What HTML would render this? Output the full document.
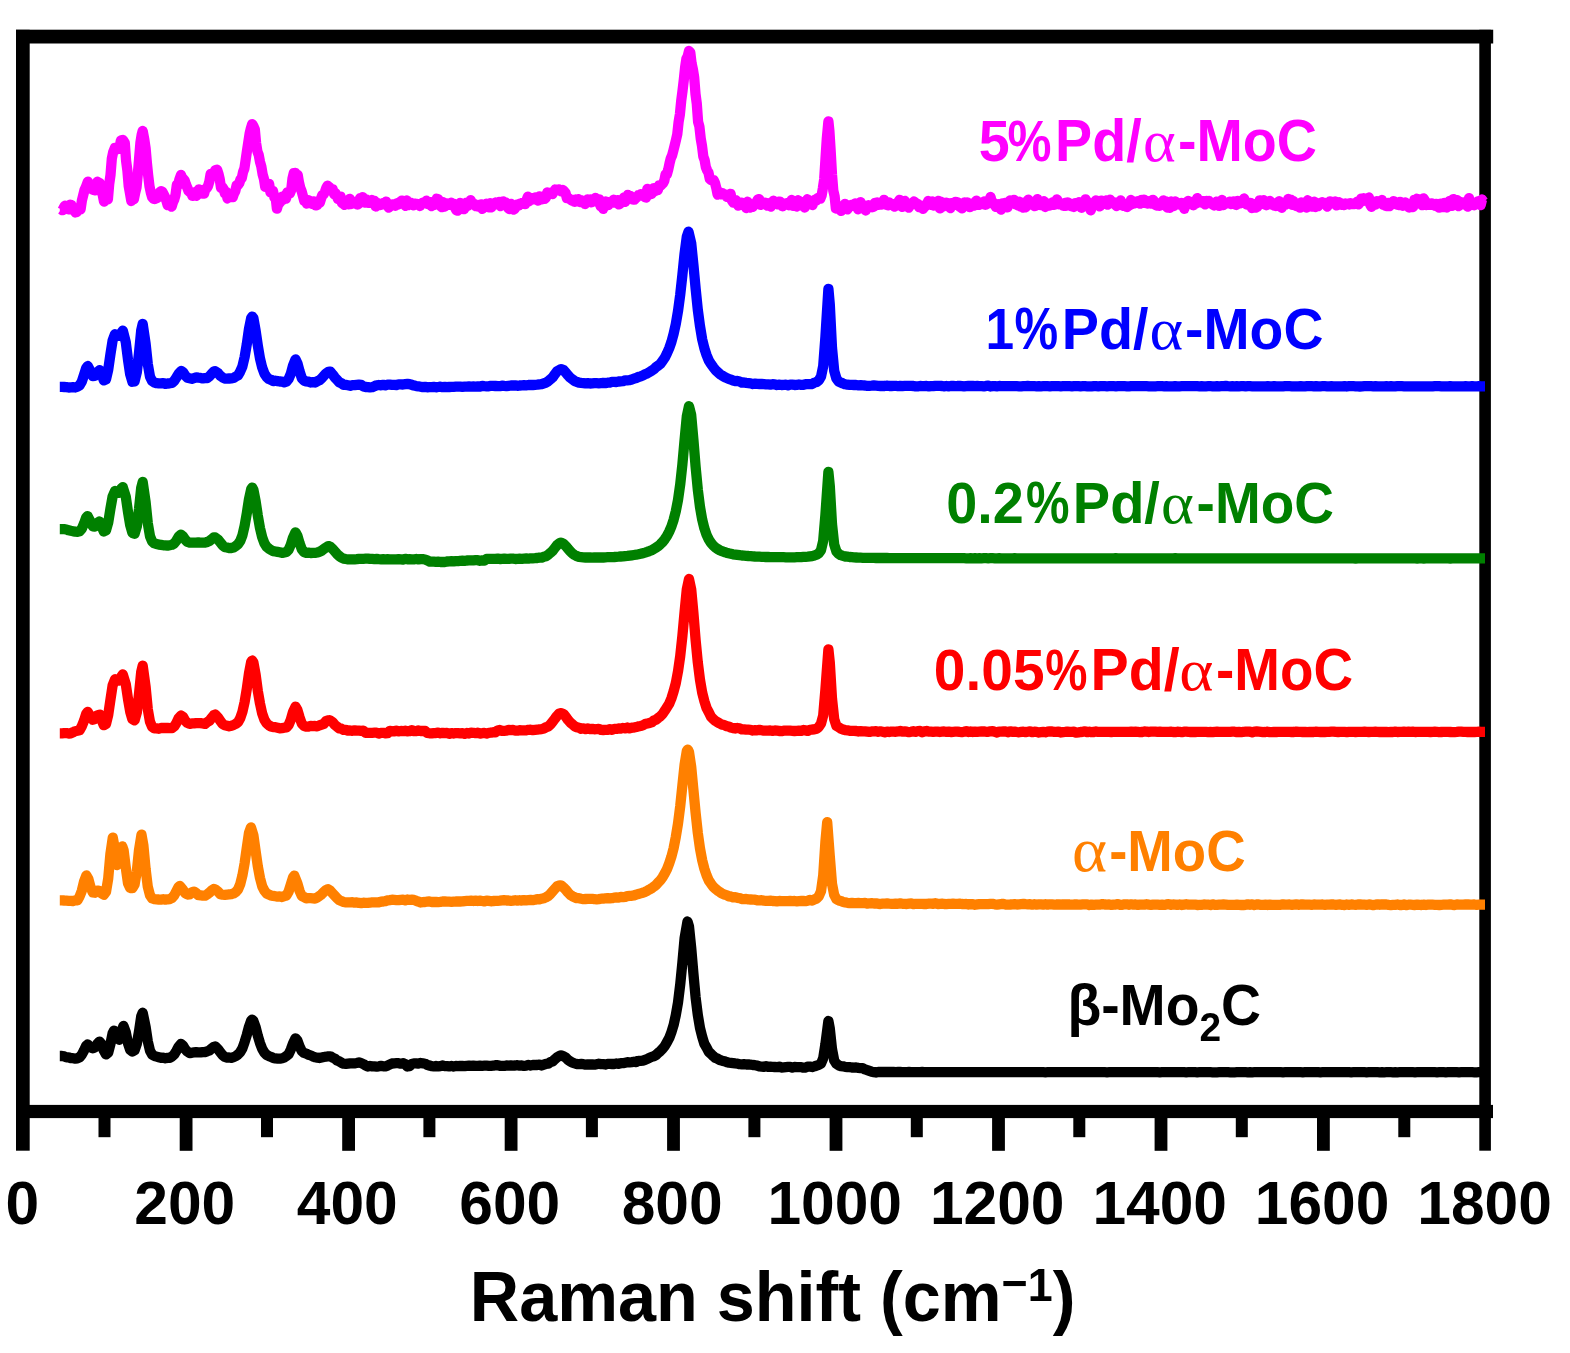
<!DOCTYPE html>
<html lang="en">
<head>
<meta charset="utf-8">
<title>Raman spectra</title>
<style>
html,body{margin:0;padding:0;background:#fff;}
body{width:1570px;height:1353px;overflow:hidden;}
svg{display:block;filter:blur(0.6px);}
text{font-family:"Liberation Sans",Arial,Helvetica,sans-serif;font-weight:bold;}
.sym{font-family:"Liberation Serif","DejaVu Serif",serif;font-weight:normal;}
.c{fill:none;stroke-width:10.3;stroke-linejoin:round;stroke-linecap:butt;}
</style>
</head>
<body>
<svg width="1570" height="1353" viewBox="0 0 1570 1353">
<rect width="1570" height="1353" fill="#fff"/>
<g fill="#000">
<rect x="16" y="29.7" width="1477.2" height="13.8"/>
<rect x="16" y="29.8" width="13.7" height="1120.9"/>
<rect x="1479.3" y="29.8" width="11.6" height="1120.9"/>
<rect x="16" y="1104.9" width="1477" height="13.2"/>
<rect x="98.5" y="1110" width="12.0" height="27.2"/>
<rect x="179.7" y="1110" width="12.8" height="40.8"/>
<rect x="261.0" y="1110" width="12.0" height="27.2"/>
<rect x="342.2" y="1110" width="12.8" height="40.8"/>
<rect x="423.4" y="1110" width="12.0" height="27.2"/>
<rect x="504.7" y="1110" width="12.8" height="40.8"/>
<rect x="585.9" y="1110" width="12.0" height="27.2"/>
<rect x="667.1" y="1110" width="12.8" height="40.8"/>
<rect x="748.4" y="1110" width="12.0" height="27.2"/>
<rect x="829.6" y="1110" width="12.8" height="40.8"/>
<rect x="910.8" y="1110" width="12.0" height="27.2"/>
<rect x="992.1" y="1110" width="12.8" height="40.8"/>
<rect x="1073.3" y="1110" width="12.0" height="27.2"/>
<rect x="1154.6" y="1110" width="12.8" height="40.8"/>
<rect x="1235.8" y="1110" width="12.0" height="27.2"/>
<rect x="1317.0" y="1110" width="12.8" height="40.8"/>
<rect x="1398.3" y="1110" width="12.0" height="27.2"/>
</g>
<path class="c" stroke="#000000" d="M59.8,1056.0 62.0,1056.0 64.2,1056.4 66.4,1057.4 68.6,1057.4 70.8,1058.2 73.0,1058.2 75.2,1058.6 77.4,1058.3 79.6,1057.3 81.8,1054.7 84.0,1050.5 86.2,1045.8 87.7,1044.4 90.6,1047.3 92.8,1048.3 95.0,1047.3 97.2,1044.1 99.5,1041.6 101.6,1044.1 103.8,1050.5 106.0,1054.4 108.2,1052.7 110.4,1044.1 112.6,1033.4 114.0,1030.6 117.0,1037.8 119.2,1039.8 121.4,1031.5 123.5,1025.9 125.8,1032.3 128.0,1043.3 130.2,1049.9 132.4,1051.5 134.6,1050.3 136.8,1043.8 139.0,1031.5 141.2,1016.5 142.7,1012.7 145.6,1026.7 147.8,1041.3 150.0,1050.7 152.2,1054.6 154.4,1056.0 156.6,1056.6 158.8,1057.2 161.0,1057.8 163.2,1057.7 165.4,1058.3 167.6,1057.9 169.8,1057.8 172.0,1056.5 174.2,1054.5 176.4,1050.9 178.6,1046.7 180.9,1043.9 183.0,1045.5 185.2,1049.3 187.4,1051.6 189.6,1053.1 191.8,1052.8 194.0,1052.4 196.2,1052.1 198.4,1052.3 200.6,1052.4 202.8,1052.1 205.0,1052.0 207.2,1051.3 209.4,1050.4 211.6,1048.6 213.8,1046.9 215.3,1046.5 218.2,1049.4 220.4,1052.3 222.6,1055.2 224.8,1056.9 227.0,1057.6 229.2,1057.5 231.4,1057.8 233.6,1057.1 235.8,1056.1 238.0,1054.5 240.2,1052.2 242.4,1048.4 244.6,1042.1 246.8,1034.9 249.0,1026.7 251.2,1020.6 252.2,1019.7 253.4,1020.9 255.6,1026.9 257.8,1035.8 260.0,1043.1 262.2,1048.8 264.4,1052.6 266.6,1054.9 268.8,1056.1 271.0,1056.8 273.2,1057.9 275.4,1058.4 277.6,1058.6 279.8,1058.7 282.0,1058.2 284.2,1057.6 286.4,1056.1 288.6,1054.3 290.8,1049.6 293.0,1043.5 295.5,1038.3 297.4,1040.4 299.6,1046.5 301.8,1051.1 304.0,1052.9 306.2,1053.6 308.4,1054.8 310.6,1055.4 312.8,1056.4 315.0,1057.3 317.2,1057.7 319.4,1058.0 321.6,1057.5 323.8,1057.0 326.0,1056.7 328.3,1056.3 330.4,1056.3 332.6,1057.6 334.8,1058.6 337.0,1060.4 339.2,1061.3 341.4,1062.7 343.6,1063.7 345.8,1063.9 348.0,1063.6 350.2,1063.3 352.4,1063.3 354.6,1063.3 356.8,1063.0 359.0,1062.4 361.2,1063.1 363.4,1064.1 365.6,1065.6 367.8,1066.5 370.0,1066.0 372.2,1066.4 374.4,1066.4 376.6,1066.6 378.8,1066.3 381.0,1065.9 383.2,1066.3 385.4,1066.4 387.6,1065.6 389.8,1064.4 392.0,1063.5 394.2,1063.3 396.4,1063.2 398.6,1063.2 400.8,1063.7 403.0,1063.2 405.2,1064.0 407.4,1066.5 409.6,1066.2 411.8,1064.0 414.0,1063.4 416.2,1063.3 418.4,1063.6 420.6,1063.0 422.8,1063.3 425.0,1063.7 427.2,1064.8 429.4,1065.5 431.6,1066.2 433.8,1066.4 436.0,1065.9 438.2,1066.4 440.4,1066.1 442.6,1065.5 444.8,1066.1 447.0,1066.1 449.2,1066.4 451.4,1065.9 453.6,1066.5 455.8,1066.0 458.0,1066.1 460.2,1065.9 462.4,1066.0 464.6,1066.1 466.8,1065.8 469.0,1065.6 471.2,1065.9 473.4,1065.6 475.6,1065.8 477.8,1065.9 480.0,1065.7 482.2,1065.8 484.4,1065.7 486.6,1065.7 488.8,1065.9 491.0,1065.9 493.2,1065.7 495.4,1065.2 497.6,1065.2 499.8,1065.8 502.0,1065.9 504.2,1065.9 506.4,1065.4 508.6,1065.6 510.8,1065.4 513.0,1065.6 515.2,1065.5 517.4,1065.2 519.6,1065.6 521.8,1065.4 524.0,1065.9 526.2,1065.6 528.4,1064.9 530.6,1065.5 532.8,1065.0 535.0,1065.0 537.2,1065.0 539.4,1064.6 541.6,1065.5 543.8,1064.7 546.0,1063.9 548.2,1063.7 550.4,1061.9 552.6,1061.4 554.8,1059.3 557.0,1057.4 559.2,1056.0 561.0,1055.3 563.6,1056.3 565.8,1057.7 568.0,1059.9 570.2,1061.3 572.4,1062.7 574.6,1063.4 576.8,1064.0 579.0,1064.1 581.2,1064.0 583.4,1064.2 585.6,1064.7 587.8,1064.4 590.0,1064.5 592.2,1064.4 594.4,1064.7 596.6,1064.2 598.8,1063.7 601.0,1064.1 603.2,1064.1 605.4,1064.5 607.6,1063.9 609.8,1063.9 612.0,1064.0 614.2,1064.0 616.4,1063.5 618.6,1063.8 620.8,1063.2 623.0,1063.2 625.2,1062.7 627.4,1062.2 629.6,1062.3 631.8,1062.1 634.0,1061.7 636.2,1062.1 638.4,1060.8 640.6,1060.8 642.8,1060.6 645.0,1059.8 647.2,1059.0 649.4,1057.9 651.6,1056.9 653.8,1056.3 656.0,1055.0 658.2,1052.8 660.4,1051.1 662.6,1048.7 664.8,1046.0 667.0,1042.1 669.2,1038.1 671.4,1032.2 673.6,1025.1 675.8,1015.2 678.0,1002.6 680.2,984.7 682.4,962.4 684.6,938.1 687.5,921.5 689.0,926.5 691.2,947.9 693.4,973.5 695.6,997.3 697.8,1014.9 700.0,1028.0 702.2,1036.7 704.4,1043.9 706.6,1047.7 708.8,1051.9 711.0,1053.9 713.2,1056.1 715.4,1057.9 717.6,1058.7 719.8,1060.0 722.0,1060.7 724.2,1061.2 726.4,1062.0 728.6,1062.7 730.8,1062.8 733.0,1063.1 735.2,1063.4 737.4,1063.6 739.6,1064.2 741.8,1064.3 744.0,1064.2 746.2,1064.5 748.4,1064.3 750.6,1064.7 752.8,1065.0 755.0,1065.2 757.2,1065.6 759.4,1066.4 761.6,1066.6 763.8,1066.8 766.0,1066.2 768.2,1066.9 770.4,1066.7 772.6,1066.8 774.8,1067.0 777.0,1067.2 779.2,1066.6 781.4,1067.5 783.6,1067.3 785.8,1067.1 788.0,1066.9 790.2,1066.8 792.4,1067.6 794.6,1067.0 796.8,1067.1 799.0,1067.1 801.2,1067.1 803.4,1067.7 805.6,1067.5 807.8,1066.7 810.0,1066.6 812.2,1067.0 814.4,1066.4 816.6,1065.6 818.8,1064.9 821.0,1063.6 823.2,1058.2 825.4,1044.1 828.4,1021.0 829.8,1028.5 832.0,1049.0 834.2,1060.5 836.4,1063.8 838.6,1065.3 840.8,1066.1 843.0,1066.3 845.2,1066.9 847.4,1067.1 849.6,1067.2 851.8,1067.5 854.0,1067.7 856.2,1067.5 858.4,1067.9 860.6,1068.2 862.8,1068.2 865.0,1069.4 867.2,1070.1 869.4,1070.9 871.6,1071.7 873.8,1072.1 876.0,1072.5 878.2,1072.0 880.4,1072.0 882.6,1071.9 884.8,1072.0 887.0,1072.0 889.2,1072.0 891.4,1072.0 893.6,1072.0 895.8,1072.1 898.0,1072.0 900.2,1072.0 902.4,1072.1 904.6,1072.1 906.8,1072.1 909.0,1072.0 911.2,1072.1 913.4,1072.1 915.6,1072.1 917.8,1072.1 920.0,1072.1 922.2,1072.0 924.4,1072.1 926.6,1072.1 928.8,1072.1 931.0,1072.1 933.2,1072.1 935.4,1072.1 937.6,1072.1 939.8,1072.2 942.0,1072.1 944.2,1072.1 946.4,1072.2 948.6,1072.1 950.8,1072.1 953.0,1072.1 955.2,1072.1 957.4,1072.1 959.6,1072.1 961.8,1072.1 964.0,1072.1 966.2,1072.1 968.4,1072.1 970.6,1072.2 972.8,1072.1 975.0,1072.2 977.2,1072.1 979.4,1072.2 981.6,1072.2 983.8,1072.1 986.0,1072.1 988.2,1072.1 990.4,1072.1 992.6,1072.1 994.8,1072.2 997.0,1072.2 999.2,1072.1 1001.4,1072.1 1003.6,1072.1 1005.8,1072.1 1008.0,1072.2 1010.2,1072.2 1012.4,1072.2 1014.6,1072.2 1016.8,1072.1 1019.0,1072.1 1021.2,1072.2 1023.4,1072.2 1025.6,1072.2 1027.8,1072.2 1030.0,1072.2 1032.2,1072.2 1034.4,1072.2 1036.6,1072.1 1038.8,1072.2 1041.0,1072.1 1043.2,1072.2 1045.4,1072.3 1047.6,1072.2 1049.8,1072.2 1052.0,1072.2 1054.2,1072.2 1056.4,1072.2 1058.6,1072.2 1060.8,1072.2 1063.0,1072.2 1065.2,1072.2 1067.4,1072.2 1069.6,1072.2 1071.8,1072.2 1074.0,1072.2 1076.2,1072.1 1078.4,1072.1 1080.6,1072.2 1082.8,1072.1 1085.0,1072.2 1087.2,1072.2 1089.4,1072.2 1091.6,1072.2 1093.8,1072.2 1096.0,1072.2 1098.2,1072.2 1100.4,1072.2 1102.6,1072.2 1104.8,1072.2 1107.0,1072.3 1109.2,1072.2 1111.4,1072.2 1113.6,1072.2 1115.8,1072.1 1118.0,1072.2 1120.2,1072.2 1122.4,1072.2 1124.6,1072.2 1126.8,1072.2 1129.0,1072.2 1131.2,1072.2 1133.4,1072.2 1135.6,1072.1 1137.8,1072.1 1140.0,1072.2 1142.2,1072.2 1144.4,1072.2 1146.6,1072.2 1148.8,1072.2 1151.0,1072.2 1153.2,1072.2 1155.4,1072.2 1157.6,1072.2 1159.8,1072.3 1162.0,1072.2 1164.2,1072.2 1166.4,1072.2 1168.6,1072.2 1170.8,1072.2 1173.0,1072.2 1175.2,1072.2 1177.4,1072.2 1179.6,1072.2 1181.8,1072.2 1184.0,1072.2 1186.2,1072.3 1188.4,1072.2 1190.6,1072.2 1192.8,1072.2 1195.0,1072.2 1197.2,1072.3 1199.4,1072.2 1201.6,1072.2 1203.8,1072.2 1206.0,1072.2 1208.2,1072.2 1210.4,1072.2 1212.6,1072.3 1214.8,1072.3 1217.0,1072.3 1219.2,1072.2 1221.4,1072.2 1223.6,1072.2 1225.8,1072.2 1228.0,1072.2 1230.2,1072.3 1232.4,1072.3 1234.6,1072.3 1236.8,1072.2 1239.0,1072.2 1241.2,1072.2 1243.4,1072.2 1245.6,1072.2 1247.8,1072.3 1250.0,1072.2 1252.2,1072.3 1254.4,1072.2 1256.6,1072.2 1258.8,1072.1 1261.0,1072.2 1263.2,1072.2 1265.4,1072.2 1267.6,1072.2 1269.8,1072.2 1272.0,1072.2 1274.2,1072.2 1276.4,1072.2 1278.6,1072.2 1280.8,1072.2 1283.0,1072.3 1285.2,1072.2 1287.4,1072.2 1289.6,1072.2 1291.8,1072.2 1294.0,1072.2 1296.2,1072.2 1298.4,1072.2 1300.6,1072.2 1302.8,1072.3 1305.0,1072.2 1307.2,1072.1 1309.4,1072.2 1311.6,1072.2 1313.8,1072.2 1316.0,1072.2 1318.2,1072.2 1320.4,1072.3 1322.6,1072.2 1324.8,1072.2 1327.0,1072.2 1329.2,1072.2 1331.4,1072.2 1333.6,1072.2 1335.8,1072.2 1338.0,1072.2 1340.2,1072.2 1342.4,1072.2 1344.6,1072.2 1346.8,1072.2 1349.0,1072.2 1351.2,1072.3 1353.4,1072.2 1355.6,1072.2 1357.8,1072.2 1360.0,1072.2 1362.2,1072.2 1364.4,1072.2 1366.6,1072.3 1368.8,1072.2 1371.0,1072.2 1373.2,1072.2 1375.4,1072.2 1377.6,1072.2 1379.8,1072.3 1382.0,1072.2 1384.2,1072.3 1386.4,1072.2 1388.6,1072.2 1390.8,1072.2 1393.0,1072.3 1395.2,1072.2 1397.4,1072.3 1399.6,1072.2 1401.8,1072.2 1404.0,1072.2 1406.2,1072.2 1408.4,1072.2 1410.6,1072.2 1412.8,1072.2 1415.0,1072.3 1417.2,1072.2 1419.4,1072.2 1421.6,1072.2 1423.8,1072.2 1426.0,1072.2 1428.2,1072.2 1430.4,1072.2 1432.6,1072.2 1434.8,1072.2 1437.0,1072.3 1439.2,1072.2 1441.4,1072.2 1443.6,1072.2 1445.8,1072.3 1448.0,1072.2 1450.2,1072.2 1452.4,1072.2 1454.6,1072.2 1456.8,1072.2 1459.0,1072.3 1461.2,1072.2 1463.4,1072.2 1465.6,1072.2 1467.8,1072.2 1470.0,1072.2 1472.2,1072.2 1474.4,1072.3 1476.6,1072.3 1478.8,1072.2 1481.0,1072.2 1483.2,1072.3 1485.0,1072.3"/>
<path class="c" stroke="#ff8000" d="M59.8,900.3 62.0,900.3 64.2,900.5 66.4,900.6 68.6,900.8 70.8,900.8 73.0,901.0 75.2,900.4 77.4,900.3 79.6,896.5 81.8,890.8 84.0,881.6 86.4,875.4 88.4,879.0 90.6,887.3 92.8,892.4 95.0,892.8 97.2,890.7 98.3,890.7 99.4,890.8 101.6,893.3 103.8,894.7 106.0,891.9 108.2,878.6 110.4,853.9 112.8,837.6 114.8,848.6 117.0,865.1 119.2,862.3 122.3,846.4 123.6,850.1 125.8,867.9 128.0,883.3 130.2,888.0 132.4,888.1 134.6,884.3 136.8,871.5 139.0,850.1 141.5,834.7 143.4,845.5 145.6,868.9 147.8,886.8 150.0,895.3 152.2,898.4 154.4,899.1 156.6,899.3 158.8,899.5 161.0,899.6 163.2,899.2 165.4,899.7 167.6,899.3 169.8,899.1 172.0,897.9 174.2,895.3 176.4,891.1 178.6,886.8 179.9,886.0 183.0,889.8 185.2,893.1 187.4,894.5 189.6,894.4 191.8,892.4 194.0,891.6 196.2,893.1 198.4,895.2 200.6,895.3 202.8,895.7 205.0,895.7 207.2,894.4 209.4,892.7 211.6,890.6 213.9,889.0 216.0,890.0 218.2,891.8 220.4,894.2 222.6,894.7 224.8,894.9 227.0,894.7 229.2,894.3 231.4,894.1 233.6,893.4 235.8,891.9 238.0,889.5 240.2,884.3 242.4,875.6 244.6,863.3 246.8,847.8 249.0,832.8 251.0,827.4 253.4,835.3 255.6,850.9 257.8,866.3 260.0,878.0 262.2,886.3 264.4,890.6 266.6,893.5 268.8,894.5 271.0,895.4 273.2,895.9 275.4,896.3 277.6,896.7 279.8,896.4 282.0,897.0 284.2,896.2 286.4,895.5 288.6,891.6 290.8,884.6 293.0,877.5 294.3,875.6 297.4,883.5 299.6,891.0 301.8,896.0 304.0,897.0 306.2,898.3 308.4,898.1 310.6,898.2 312.8,898.3 315.0,898.5 317.2,897.5 319.4,896.0 321.6,894.3 323.8,891.9 326.0,890.1 328.0,889.1 330.4,890.8 332.6,893.3 334.8,895.7 337.0,898.2 339.2,900.1 341.4,901.1 343.6,902.0 345.8,902.3 348.0,902.4 350.2,902.3 352.4,902.2 354.6,902.7 356.8,902.4 359.0,902.9 361.2,903.1 363.4,902.7 365.6,902.8 367.8,902.9 370.0,902.7 372.2,902.3 374.4,902.3 376.6,902.3 378.8,902.3 381.0,901.7 383.2,901.5 385.4,901.2 387.6,900.4 389.8,900.1 392.0,899.7 394.2,899.9 396.4,900.1 398.6,900.2 400.8,899.9 403.0,899.7 405.2,900.3 407.4,899.5 409.6,899.8 411.8,899.7 414.0,899.9 416.2,900.8 418.4,901.6 420.6,902.5 422.8,902.2 425.0,902.0 427.2,901.7 429.4,901.5 431.6,902.0 433.8,902.0 436.0,901.9 438.2,902.1 440.4,901.9 442.6,901.5 444.8,901.4 447.0,901.6 449.2,901.7 451.4,901.8 453.6,901.6 455.8,901.5 458.0,901.3 460.2,901.5 462.4,901.4 464.6,901.1 466.8,900.9 469.0,900.9 471.2,900.7 473.4,901.0 475.6,900.7 477.8,901.0 480.0,900.7 482.2,901.0 484.4,901.4 486.6,900.6 488.8,900.9 491.0,901.3 493.2,901.0 495.4,900.8 497.6,900.9 499.8,900.7 502.0,900.4 504.2,900.2 506.4,900.5 508.6,900.5 510.8,900.8 513.0,900.6 515.2,900.2 517.4,900.6 519.6,900.2 521.8,900.6 524.0,900.1 526.2,900.4 528.4,900.2 530.6,900.0 532.8,900.2 535.0,899.8 537.2,899.1 539.4,899.4 541.6,898.7 543.8,898.2 546.0,897.3 548.2,896.0 550.4,893.9 552.6,891.3 554.8,888.8 557.0,886.4 559.8,885.3 561.4,885.6 563.6,887.6 565.8,889.7 568.0,892.5 570.2,894.8 572.4,896.2 574.6,897.2 576.8,898.2 579.0,898.2 581.2,898.7 583.4,899.1 585.6,899.0 587.8,898.9 590.0,898.9 592.2,898.8 594.4,899.2 596.6,899.3 598.8,899.1 601.0,898.7 603.2,898.7 605.4,898.3 607.6,898.1 609.8,898.4 612.0,898.2 614.2,897.6 616.4,897.4 618.6,897.6 620.8,897.0 623.0,897.2 625.2,896.9 627.4,896.1 629.6,895.9 631.8,895.8 634.0,895.4 636.2,894.6 638.4,894.0 640.6,893.4 642.8,892.8 645.0,891.9 647.2,890.8 649.4,889.6 651.6,888.3 653.8,886.7 656.0,884.9 658.2,882.5 660.4,880.2 662.6,877.2 664.8,873.4 667.0,869.1 669.2,863.4 671.4,856.7 673.6,848.3 675.8,836.9 678.0,823.7 680.2,806.4 682.4,785.3 684.6,764.5 686.8,751.0 687.8,749.6 689.0,752.1 691.2,766.7 693.4,789.7 695.6,812.7 697.8,832.9 700.0,848.5 702.2,860.3 704.4,868.9 706.6,875.4 708.8,880.5 711.0,883.7 713.2,886.7 715.4,888.8 717.6,890.6 719.8,892.0 722.0,893.6 724.2,894.5 726.4,895.1 728.6,896.3 730.8,896.5 733.0,897.3 735.2,897.2 737.4,897.8 739.6,898.1 741.8,899.0 744.0,899.1 746.2,899.0 748.4,899.4 750.6,899.5 752.8,899.7 755.0,899.7 757.2,900.3 759.4,900.3 761.6,900.2 763.8,900.6 766.0,900.8 768.2,900.8 770.4,900.7 772.6,901.0 774.8,901.1 777.0,901.4 779.2,901.0 781.4,901.2 783.6,901.2 785.8,901.1 788.0,901.2 790.2,901.0 792.4,901.1 794.6,901.0 796.8,901.3 799.0,901.1 801.2,901.0 803.4,901.0 805.6,901.1 807.8,900.7 810.0,900.0 812.2,900.6 814.4,899.4 816.6,898.6 818.8,896.2 821.0,891.2 823.2,875.5 825.4,842.0 827.2,822.2 829.8,856.4 832.0,883.7 834.2,894.9 836.4,899.1 838.6,900.4 840.8,900.9 843.0,902.0 845.2,902.4 847.4,902.8 849.6,903.1 851.8,902.9 854.0,903.2 856.2,903.1 858.4,903.0 860.6,903.1 862.8,903.1 865.0,903.0 867.2,903.7 869.4,903.3 871.6,903.2 873.8,903.5 876.0,903.3 878.2,903.8 880.4,904.0 882.6,903.7 884.8,903.6 887.0,903.5 889.2,903.7 891.4,903.8 893.6,903.9 895.8,903.6 898.0,903.8 900.2,903.4 902.4,903.8 904.6,903.9 906.8,904.0 909.0,903.6 911.2,903.5 913.4,904.2 915.6,903.8 917.8,903.8 920.0,903.9 922.2,903.8 924.4,904.0 926.6,904.0 928.8,903.7 931.0,903.6 933.2,903.8 935.4,903.2 937.6,904.1 939.8,903.8 942.0,903.7 944.2,904.0 946.4,904.1 948.6,903.9 950.8,903.8 953.0,903.6 955.2,903.8 957.4,903.8 959.6,903.7 961.8,904.0 964.0,904.1 966.2,904.0 968.4,904.5 970.6,904.1 972.8,904.2 975.0,904.8 977.2,904.4 979.4,904.1 981.6,904.2 983.8,904.1 986.0,904.2 988.2,904.1 990.4,903.9 992.6,903.9 994.8,904.3 997.0,904.6 999.2,904.3 1001.4,904.0 1003.6,904.0 1005.8,904.6 1008.0,904.6 1010.2,904.5 1012.4,904.3 1014.6,904.2 1016.8,904.5 1019.0,904.3 1021.2,904.1 1023.4,903.9 1025.6,904.2 1027.8,904.3 1030.0,904.2 1032.2,904.7 1034.4,904.2 1036.6,904.6 1038.8,904.4 1041.0,904.4 1043.2,904.6 1045.4,904.2 1047.6,904.7 1049.8,904.3 1052.0,904.4 1054.2,904.6 1056.4,904.5 1058.6,904.3 1060.8,904.7 1063.0,904.3 1065.2,904.5 1067.4,904.3 1069.6,904.5 1071.8,904.6 1074.0,904.5 1076.2,904.3 1078.4,904.7 1080.6,904.6 1082.8,904.4 1085.0,904.4 1087.2,904.4 1089.4,905.1 1091.6,904.6 1093.8,904.9 1096.0,904.7 1098.2,904.7 1100.4,904.6 1102.6,904.1 1104.8,904.5 1107.0,904.6 1109.2,904.4 1111.4,904.9 1113.6,904.6 1115.8,904.6 1118.0,904.1 1120.2,904.8 1122.4,904.8 1124.6,904.3 1126.8,904.3 1129.0,904.8 1131.2,904.3 1133.4,904.7 1135.6,904.5 1137.8,904.9 1140.0,904.6 1142.2,904.7 1144.4,904.6 1146.6,904.2 1148.8,904.6 1151.0,904.9 1153.2,904.6 1155.4,904.7 1157.6,904.6 1159.8,904.8 1162.0,904.7 1164.2,904.9 1166.4,904.4 1168.6,904.2 1170.8,904.8 1173.0,904.5 1175.2,904.6 1177.4,904.9 1179.6,904.5 1181.8,905.0 1184.0,904.6 1186.2,904.2 1188.4,904.6 1190.6,904.7 1192.8,904.7 1195.0,904.6 1197.2,905.1 1199.4,904.9 1201.6,904.8 1203.8,904.5 1206.0,904.6 1208.2,904.7 1210.4,905.0 1212.6,904.3 1214.8,904.9 1217.0,904.9 1219.2,904.7 1221.4,904.7 1223.6,904.5 1225.8,904.6 1228.0,904.9 1230.2,904.8 1232.4,904.9 1234.6,904.8 1236.8,904.6 1239.0,904.9 1241.2,905.0 1243.4,905.0 1245.6,904.8 1247.8,904.3 1250.0,904.8 1252.2,904.3 1254.4,905.0 1256.6,904.5 1258.8,904.4 1261.0,904.9 1263.2,904.8 1265.4,904.7 1267.6,905.0 1269.8,904.6 1272.0,904.8 1274.2,904.8 1276.4,904.8 1278.6,904.8 1280.8,904.8 1283.0,904.3 1285.2,904.6 1287.4,904.7 1289.6,904.5 1291.8,904.8 1294.0,904.6 1296.2,904.4 1298.4,904.8 1300.6,904.5 1302.8,904.5 1305.0,904.6 1307.2,904.6 1309.4,904.7 1311.6,904.8 1313.8,904.5 1316.0,904.7 1318.2,904.6 1320.4,904.6 1322.6,904.5 1324.8,904.8 1327.0,904.6 1329.2,904.6 1331.4,904.5 1333.6,904.5 1335.8,904.8 1338.0,904.6 1340.2,904.4 1342.4,904.9 1344.6,905.0 1346.8,904.5 1349.0,904.8 1351.2,904.5 1353.4,904.7 1355.6,904.8 1357.8,904.5 1360.0,904.4 1362.2,904.6 1364.4,904.7 1366.6,904.8 1368.8,904.5 1371.0,904.7 1373.2,905.1 1375.4,904.7 1377.6,904.4 1379.8,904.8 1382.0,904.4 1384.2,904.5 1386.4,904.5 1388.6,904.9 1390.8,905.1 1393.0,904.9 1395.2,904.9 1397.4,904.5 1399.6,905.0 1401.8,905.0 1404.0,904.5 1406.2,905.1 1408.4,904.7 1410.6,904.7 1412.8,904.8 1415.0,905.1 1417.2,904.6 1419.4,904.9 1421.6,905.0 1423.8,904.7 1426.0,905.0 1428.2,904.7 1430.4,904.6 1432.6,904.7 1434.8,904.8 1437.0,904.9 1439.2,905.0 1441.4,904.8 1443.6,904.7 1445.8,904.7 1448.0,904.6 1450.2,904.3 1452.4,904.8 1454.6,905.0 1456.8,904.5 1459.0,904.7 1461.2,904.7 1463.4,904.7 1465.6,904.5 1467.8,904.4 1470.0,904.7 1472.2,904.7 1474.4,904.5 1476.6,904.8 1478.8,904.6 1481.0,904.7 1483.2,904.6 1485.0,904.6"/>
<path class="c" stroke="#ff0000" d="M59.8,733.3 62.0,733.3 64.2,733.1 66.4,733.1 68.6,733.6 70.8,733.3 73.0,732.3 75.2,731.2 77.4,730.8 79.6,730.3 81.8,726.2 84.0,720.8 86.2,713.9 87.7,711.9 90.6,716.7 92.8,719.8 95.0,718.9 97.2,715.4 99.7,714.7 101.6,719.8 103.8,725.2 106.0,724.0 108.2,715.1 110.4,700.1 112.6,685.5 115.1,679.2 117.0,680.7 119.2,680.5 121.4,676.4 122.8,674.4 125.8,684.3 128.0,699.0 130.2,711.7 132.4,719.2 134.6,720.3 136.8,712.6 139.0,694.0 141.2,671.9 142.7,665.7 145.6,686.8 147.8,709.3 150.0,721.8 152.2,727.0 154.4,728.4 156.6,728.4 158.8,728.8 161.0,727.9 163.2,728.0 165.4,728.0 167.6,727.9 169.8,728.1 172.0,728.0 174.2,726.4 176.4,722.9 178.6,718.3 181.1,715.6 183.0,716.8 185.2,720.8 187.4,722.9 189.6,723.9 191.8,723.4 194.0,723.4 196.2,723.1 198.4,723.1 200.6,723.1 202.8,723.5 205.0,723.9 207.2,722.1 209.4,720.8 211.6,717.9 213.8,715.2 215.2,714.5 218.2,717.8 220.4,720.9 222.6,724.0 224.8,725.2 227.0,725.7 229.2,726.3 231.4,725.8 233.6,724.9 235.8,723.9 238.0,722.2 240.2,718.2 242.4,711.9 244.6,702.2 246.8,688.8 249.0,673.3 251.2,661.8 252.2,660.5 253.4,662.3 255.6,674.4 257.8,690.8 260.0,703.5 262.2,713.6 264.4,719.7 266.6,723.2 268.8,725.2 271.0,726.5 273.2,727.1 275.4,727.2 277.6,727.7 279.8,728.3 282.0,728.1 284.2,727.7 286.4,727.4 288.6,725.0 290.8,719.7 293.0,712.0 295.5,706.7 297.4,709.9 299.6,717.3 301.8,723.7 304.0,725.9 306.2,726.7 308.4,726.6 310.6,725.9 312.8,726.1 315.0,725.9 317.2,726.4 319.4,725.4 321.6,724.6 323.8,723.8 326.0,721.2 328.2,720.4 329.2,720.2 330.4,720.6 332.6,722.2 334.8,724.8 337.0,726.7 339.2,728.4 341.4,728.7 343.6,729.9 345.8,729.8 348.0,730.7 350.2,730.5 352.4,730.8 354.6,730.4 356.8,730.7 359.0,730.6 361.2,730.8 363.4,730.6 365.6,732.8 367.8,732.9 370.0,732.8 372.2,732.8 374.4,732.7 376.6,732.6 378.8,733.6 381.0,732.9 383.2,732.8 385.4,733.4 387.6,733.2 389.8,730.8 392.0,731.2 394.2,731.4 396.4,730.6 398.6,731.3 400.8,731.0 403.0,731.2 405.2,730.7 407.4,731.3 409.6,731.2 411.8,730.1 414.0,731.2 416.2,731.2 418.4,730.5 420.6,731.0 422.8,730.8 425.0,730.9 427.2,732.9 429.4,733.3 431.6,733.4 433.8,733.1 436.0,733.1 438.2,732.6 440.4,733.3 442.6,732.8 444.8,733.1 447.0,732.9 449.2,733.9 451.4,733.1 453.6,733.6 455.8,733.1 458.0,733.1 460.2,733.3 462.4,733.1 464.6,733.8 466.8,733.0 469.0,733.5 471.2,732.7 473.4,732.8 475.6,733.2 477.8,732.6 480.0,733.6 482.2,733.2 484.4,733.0 486.6,733.5 488.8,732.8 491.0,732.7 493.2,732.2 495.4,732.4 497.6,730.5 499.8,730.0 502.0,730.8 504.2,730.8 506.4,730.7 508.6,730.0 510.8,730.2 513.0,730.0 515.2,730.6 517.4,730.7 519.6,730.2 521.8,730.3 524.0,730.3 526.2,730.4 528.4,729.8 530.6,729.7 532.8,730.1 535.0,729.9 537.2,729.7 539.4,729.3 541.6,729.1 543.8,728.5 546.0,727.2 548.2,726.6 550.4,724.5 552.6,721.7 554.8,718.9 557.0,715.9 559.2,713.5 561.0,713.2 563.6,714.1 565.8,716.8 568.0,719.9 570.2,722.4 572.4,724.2 574.6,726.2 576.8,727.2 579.0,727.7 581.2,728.8 583.4,728.4 585.6,729.2 587.8,728.5 590.0,729.1 592.2,728.8 594.4,729.3 596.6,729.2 598.8,728.8 601.0,729.9 603.2,730.0 605.4,729.9 607.6,729.9 609.8,729.2 612.0,729.9 614.2,728.9 616.4,728.9 618.6,728.4 620.8,728.6 623.0,728.0 625.2,728.3 627.4,727.5 629.6,728.3 631.8,727.7 634.0,727.6 636.2,727.1 638.4,726.4 640.6,726.0 642.8,725.4 645.0,724.1 647.2,723.6 649.4,723.0 651.6,722.4 653.8,720.6 656.0,719.7 658.2,717.9 660.4,716.3 662.6,714.0 664.8,710.7 667.0,707.2 669.2,703.8 671.4,698.4 673.6,691.4 675.8,683.1 678.0,671.4 680.2,656.2 682.4,635.9 684.6,611.8 686.8,589.3 689.0,579.0 691.2,589.3 693.4,613.0 695.6,639.9 697.8,662.4 700.0,679.8 702.2,692.6 704.4,701.2 706.6,708.1 708.8,712.2 711.0,716.7 713.2,719.1 715.4,720.9 717.6,722.2 719.8,723.5 722.0,724.6 724.2,725.0 726.4,726.1 728.6,726.5 730.8,727.5 733.0,728.1 735.2,728.5 737.4,728.0 739.6,728.3 741.8,729.4 744.0,729.4 746.2,729.7 748.4,729.7 750.6,729.8 752.8,730.5 755.0,730.2 757.2,730.3 759.4,729.9 761.6,730.3 763.8,730.7 766.0,730.6 768.2,730.7 770.4,730.5 772.6,730.8 774.8,730.5 777.0,730.6 779.2,731.0 781.4,731.2 783.6,730.7 785.8,730.7 788.0,730.7 790.2,730.7 792.4,730.8 794.6,731.0 796.8,730.9 799.0,730.7 801.2,730.8 803.4,730.0 805.6,730.4 807.8,730.9 810.0,729.8 812.2,729.5 814.4,729.3 816.6,728.7 818.8,726.9 821.0,723.7 823.2,715.5 825.4,689.8 828.4,649.4 829.8,662.6 832.0,698.5 834.2,719.1 836.4,725.8 838.6,727.1 840.8,728.7 843.0,729.5 845.2,730.2 847.4,730.3 849.6,730.8 851.8,730.9 854.0,730.9 856.2,731.0 858.4,731.5 860.6,731.2 862.8,731.4 865.0,731.3 867.2,731.6 869.4,731.9 871.6,731.4 873.8,731.3 876.0,731.2 878.2,731.8 880.4,731.3 882.6,731.7 884.8,732.3 887.0,731.6 889.2,732.1 891.4,731.6 893.6,731.6 895.8,731.8 898.0,731.4 900.2,730.9 902.4,731.6 904.6,731.4 906.8,731.7 909.0,732.2 911.2,731.8 913.4,731.2 915.6,731.8 917.8,731.1 920.0,731.0 922.2,732.3 924.4,731.4 926.6,731.0 928.8,731.7 931.0,731.7 933.2,731.9 935.4,731.7 937.6,731.7 939.8,732.0 942.0,731.7 944.2,731.5 946.4,731.8 948.6,731.6 950.8,732.1 953.0,731.8 955.2,731.7 957.4,731.6 959.6,731.9 961.8,732.1 964.0,731.7 966.2,731.1 968.4,732.0 970.6,731.5 972.8,732.0 975.0,731.6 977.2,731.9 979.4,731.7 981.6,731.5 983.8,731.4 986.0,731.8 988.2,731.8 990.4,731.3 992.6,731.1 994.8,731.9 997.0,732.5 999.2,731.6 1001.4,731.7 1003.6,731.5 1005.8,731.4 1008.0,732.3 1010.2,731.3 1012.4,731.9 1014.6,731.6 1016.8,732.0 1019.0,732.3 1021.2,731.9 1023.4,731.7 1025.6,732.1 1027.8,731.7 1030.0,731.3 1032.2,732.2 1034.4,731.7 1036.6,731.9 1038.8,732.5 1041.0,732.1 1043.2,731.9 1045.4,732.3 1047.6,731.6 1049.8,731.3 1052.0,731.5 1054.2,731.9 1056.4,731.9 1058.6,731.6 1060.8,732.5 1063.0,732.1 1065.2,731.9 1067.4,731.6 1069.6,731.8 1071.8,731.9 1074.0,731.7 1076.2,732.7 1078.4,732.4 1080.6,732.0 1082.8,731.8 1085.0,731.3 1087.2,732.2 1089.4,731.6 1091.6,732.2 1093.8,732.0 1096.0,731.4 1098.2,731.9 1100.4,731.8 1102.6,731.8 1104.8,731.8 1107.0,731.9 1109.2,731.8 1111.4,732.0 1113.6,731.9 1115.8,731.8 1118.0,731.8 1120.2,731.8 1122.4,731.8 1124.6,731.8 1126.8,731.9 1129.0,731.8 1131.2,731.6 1133.4,731.9 1135.6,731.7 1137.8,731.8 1140.0,732.2 1142.2,732.0 1144.4,731.5 1146.6,731.6 1148.8,732.0 1151.0,731.7 1153.2,731.6 1155.4,731.6 1157.6,731.8 1159.8,731.7 1162.0,731.9 1164.2,731.8 1166.4,731.9 1168.6,731.8 1170.8,731.7 1173.0,732.0 1175.2,732.1 1177.4,731.7 1179.6,731.8 1181.8,732.2 1184.0,731.7 1186.2,731.7 1188.4,731.9 1190.6,732.0 1192.8,731.9 1195.0,732.0 1197.2,731.8 1199.4,731.9 1201.6,731.9 1203.8,731.9 1206.0,731.9 1208.2,732.1 1210.4,732.0 1212.6,732.1 1214.8,731.8 1217.0,731.7 1219.2,731.8 1221.4,731.8 1223.6,731.9 1225.8,731.8 1228.0,731.9 1230.2,731.9 1232.4,731.7 1234.6,731.7 1236.8,732.1 1239.0,731.8 1241.2,732.2 1243.4,731.8 1245.6,731.7 1247.8,731.7 1250.0,731.7 1252.2,732.3 1254.4,731.6 1256.6,731.5 1258.8,731.7 1261.0,731.9 1263.2,732.2 1265.4,732.0 1267.6,731.7 1269.8,732.1 1272.0,732.1 1274.2,731.8 1276.4,732.0 1278.6,731.9 1280.8,731.9 1283.0,731.8 1285.2,731.8 1287.4,731.9 1289.6,731.8 1291.8,732.0 1294.0,732.0 1296.2,731.6 1298.4,731.9 1300.6,731.8 1302.8,732.0 1305.0,731.8 1307.2,732.1 1309.4,732.0 1311.6,732.0 1313.8,732.0 1316.0,731.7 1318.2,731.9 1320.4,732.0 1322.6,732.0 1324.8,732.0 1327.0,731.9 1329.2,731.9 1331.4,731.7 1333.6,731.6 1335.8,731.9 1338.0,732.0 1340.2,731.8 1342.4,731.8 1344.6,731.9 1346.8,732.1 1349.0,731.8 1351.2,731.9 1353.4,731.9 1355.6,732.0 1357.8,731.9 1360.0,731.8 1362.2,731.8 1364.4,731.7 1366.6,731.9 1368.8,732.0 1371.0,731.9 1373.2,731.8 1375.4,731.7 1377.6,731.8 1379.8,732.0 1382.0,732.0 1384.2,732.0 1386.4,732.0 1388.6,732.1 1390.8,731.9 1393.0,732.0 1395.2,731.6 1397.4,732.0 1399.6,731.8 1401.8,731.9 1404.0,731.7 1406.2,731.8 1408.4,731.7 1410.6,731.9 1412.8,731.7 1415.0,732.0 1417.2,731.8 1419.4,731.9 1421.6,731.8 1423.8,731.9 1426.0,731.8 1428.2,731.8 1430.4,732.0 1432.6,731.8 1434.8,731.7 1437.0,731.8 1439.2,732.2 1441.4,732.0 1443.6,731.9 1445.8,731.9 1448.0,731.9 1450.2,732.0 1452.4,732.2 1454.6,732.1 1456.8,731.9 1459.0,731.6 1461.2,731.7 1463.4,731.9 1465.6,731.8 1467.8,732.0 1470.0,731.8 1472.2,732.0 1474.4,732.0 1476.6,731.8 1478.8,731.7 1481.0,731.8 1483.2,731.8 1485.0,731.8"/>
<path class="c" stroke="#008000" d="M59.8,529.1 62.0,529.1 64.2,529.2 66.4,529.5 68.6,530.3 70.8,530.8 73.0,531.2 75.2,531.7 77.4,531.8 79.6,531.2 81.8,528.8 84.0,523.6 86.2,517.4 87.6,516.1 90.6,521.9 92.8,526.3 95.0,526.6 97.2,523.1 99.5,521.5 101.6,526.1 103.8,531.5 106.0,530.4 108.2,522.7 110.4,508.9 112.6,496.5 115.0,491.0 117.0,492.6 119.2,492.9 121.4,488.4 122.8,487.2 125.8,496.8 128.0,511.9 130.2,525.1 132.4,532.9 134.6,533.8 136.8,526.6 139.0,509.1 141.2,487.7 142.7,482.0 145.6,502.0 147.8,523.3 150.0,536.2 152.2,541.6 154.4,543.4 156.6,544.0 158.8,544.6 161.0,544.9 163.2,545.3 165.4,545.3 167.6,545.6 169.8,545.2 172.0,544.8 174.2,543.5 176.4,540.6 178.6,536.7 180.9,534.7 183.0,536.3 185.2,539.6 187.4,541.9 189.6,542.6 191.8,542.7 194.0,542.6 196.2,542.6 198.4,542.3 200.6,542.7 202.8,542.6 205.0,542.7 207.2,542.0 209.4,541.1 211.6,539.3 213.8,537.4 215.2,537.4 218.2,539.8 220.4,542.5 222.6,545.3 224.8,547.2 227.0,547.5 229.2,548.1 231.4,548.0 233.6,547.5 235.8,546.0 238.0,544.2 240.2,541.1 242.4,535.4 244.6,525.8 246.8,513.3 249.0,499.0 251.2,489.1 252.2,487.6 253.4,489.7 255.6,501.0 257.8,515.6 260.0,528.1 262.2,537.3 264.4,543.3 266.6,546.8 268.8,548.6 271.0,550.0 273.2,551.1 275.4,551.5 277.6,551.9 279.8,552.3 282.0,552.9 284.2,552.4 286.4,551.9 288.6,549.8 290.8,544.8 293.0,537.6 295.5,532.3 297.4,535.7 299.6,543.1 301.8,549.3 304.0,552.1 306.2,552.8 308.4,552.6 310.6,553.0 312.8,552.8 315.0,552.9 317.2,552.5 319.4,551.8 321.6,550.8 323.8,549.0 326.0,547.5 328.2,546.1 329.1,546.2 330.4,546.9 332.6,548.8 334.8,551.3 337.0,553.9 339.2,556.0 341.4,557.6 343.6,558.6 345.8,559.0 348.0,559.3 350.2,559.4 352.4,559.3 354.6,559.4 356.8,559.2 359.0,558.9 361.2,558.8 363.4,558.8 365.6,558.7 367.8,558.6 370.0,558.9 372.2,558.9 374.4,559.1 376.6,559.0 378.8,559.2 381.0,559.3 383.2,559.2 385.4,559.3 387.6,559.2 389.8,559.3 392.0,559.4 394.2,559.4 396.4,559.3 398.6,559.1 400.8,559.3 403.0,559.5 405.2,558.8 407.4,559.3 409.6,559.2 411.8,559.3 414.0,559.3 416.2,559.0 418.4,559.4 420.6,559.1 422.8,559.2 425.0,559.5 427.2,560.3 429.4,561.5 431.6,561.7 433.8,561.7 436.0,561.9 438.2,561.7 440.4,562.0 442.6,561.8 444.8,562.0 447.0,561.5 449.2,561.3 451.4,561.2 453.6,561.4 455.8,561.1 458.0,561.2 460.2,560.8 462.4,560.7 464.6,560.8 466.8,560.5 469.0,560.4 471.2,560.4 473.4,560.4 475.6,560.2 477.8,560.2 480.0,560.8 482.2,560.4 484.4,560.5 486.6,558.9 488.8,558.9 491.0,558.9 493.2,558.8 495.4,558.8 497.6,558.6 499.8,559.1 502.0,558.8 504.2,558.6 506.4,558.9 508.6,558.9 510.8,558.6 513.0,558.7 515.2,559.0 517.4,558.8 519.6,558.7 521.8,558.8 524.0,558.6 526.2,558.5 528.4,558.7 530.6,558.3 532.8,558.3 535.0,558.2 537.2,558.0 539.4,557.6 541.6,557.7 543.8,556.8 546.0,556.3 548.2,554.8 550.4,552.8 552.6,550.9 554.8,548.0 557.0,545.2 559.2,543.3 561.0,542.6 563.6,543.9 565.8,546.1 568.0,548.8 570.2,551.2 572.4,553.5 574.6,555.0 576.8,556.1 579.0,556.9 581.2,557.1 583.4,557.3 585.6,557.5 587.8,557.4 590.0,557.5 592.2,557.7 594.4,557.5 596.6,557.3 598.8,557.5 601.0,557.5 603.2,557.5 605.4,557.3 607.6,557.2 609.8,557.2 612.0,557.1 614.2,557.0 616.4,556.8 618.6,556.7 620.8,556.5 623.0,556.4 625.2,556.1 627.4,555.9 629.6,555.6 631.8,555.3 634.0,555.0 636.2,554.7 638.4,554.3 640.6,553.8 642.8,553.2 645.0,552.6 647.2,551.9 649.4,551.1 651.6,550.2 653.8,549.0 656.0,547.6 658.2,546.2 660.4,544.2 662.6,542.0 664.8,539.2 667.0,535.9 669.2,531.6 671.4,526.5 673.6,519.8 675.8,511.3 678.0,499.9 680.2,484.6 682.4,464.3 684.6,439.8 686.8,416.4 689.0,406.2 691.2,415.1 693.4,439.6 695.6,466.6 697.8,489.6 700.0,507.0 702.2,519.6 704.4,528.4 706.6,534.9 708.8,539.5 711.0,542.9 713.2,545.5 715.4,547.5 717.6,549.0 719.8,550.3 722.0,551.2 724.2,552.0 726.4,552.7 728.6,553.3 730.8,553.8 733.0,554.3 735.2,554.6 737.4,554.9 739.6,555.2 741.8,555.5 744.0,555.6 746.2,555.8 748.4,556.0 750.6,556.1 752.8,556.3 755.0,556.5 757.2,556.6 759.4,556.7 761.6,556.8 763.8,556.8 766.0,557.0 768.2,557.0 770.4,557.1 772.6,557.1 774.8,557.1 777.0,557.2 779.2,557.2 781.4,557.2 783.6,557.2 785.8,557.3 788.0,557.3 790.2,557.3 792.4,557.3 794.6,557.3 796.8,557.2 799.0,557.2 801.2,557.1 803.4,556.9 805.6,556.9 807.8,556.7 810.0,556.4 812.2,556.1 814.4,555.5 816.6,554.7 818.8,553.2 821.0,550.2 823.2,540.8 825.4,514.9 828.4,471.9 829.8,486.0 832.0,524.1 834.2,544.5 836.4,551.3 838.6,553.9 840.8,555.2 843.0,555.9 845.2,556.5 847.4,556.7 849.6,557.0 851.8,557.2 854.0,557.4 856.2,557.5 858.4,557.6 860.6,557.7 862.8,557.8 865.0,557.8 867.2,557.8 869.4,557.9 871.6,557.9 873.8,557.9 876.0,558.0 878.2,557.9 880.4,558.0 882.6,558.0 884.8,558.0 887.0,558.0 889.2,558.1 891.4,558.1 893.6,558.1 895.8,558.1 898.0,558.1 900.2,558.1 902.4,558.1 904.6,558.2 906.8,558.2 909.0,558.2 911.2,558.1 913.4,558.1 915.6,558.2 917.8,558.2 920.0,558.2 922.2,558.2 924.4,558.2 926.6,558.2 928.8,558.2 931.0,558.2 933.2,558.2 935.4,558.2 937.6,558.2 939.8,558.2 942.0,558.2 944.2,558.2 946.4,558.2 948.6,558.2 950.8,558.2 953.0,558.2 955.2,558.2 957.4,558.2 959.6,558.2 961.8,558.2 964.0,558.2 966.2,558.3 968.4,558.3 970.6,558.2 972.8,558.3 975.0,558.2 977.2,558.3 979.4,558.2 981.6,558.3 983.8,558.2 986.0,558.2 988.2,558.3 990.4,558.2 992.6,558.2 994.8,558.3 997.0,558.3 999.2,558.2 1001.4,558.3 1003.6,558.3 1005.8,558.3 1008.0,558.3 1010.2,558.3 1012.4,558.3 1014.6,558.2 1016.8,558.3 1019.0,558.3 1021.2,558.3 1023.4,558.3 1025.6,558.3 1027.8,558.3 1030.0,558.3 1032.2,558.3 1034.4,558.3 1036.6,558.3 1038.8,558.3 1041.0,558.3 1043.2,558.3 1045.4,558.3 1047.6,558.3 1049.8,558.3 1052.0,558.3 1054.2,558.3 1056.4,558.3 1058.6,558.3 1060.8,558.3 1063.0,558.3 1065.2,558.4 1067.4,558.4 1069.6,558.4 1071.8,558.4 1074.0,558.4 1076.2,558.3 1078.4,558.3 1080.6,558.4 1082.8,558.3 1085.0,558.3 1087.2,558.3 1089.4,558.3 1091.6,558.3 1093.8,558.3 1096.0,558.4 1098.2,558.3 1100.4,558.4 1102.6,558.4 1104.8,558.3 1107.0,558.4 1109.2,558.4 1111.4,558.4 1113.6,558.4 1115.8,558.2 1118.0,558.3 1120.2,558.4 1122.4,558.4 1124.6,558.3 1126.8,558.3 1129.0,558.3 1131.2,558.3 1133.4,558.3 1135.6,558.3 1137.8,558.3 1140.0,558.3 1142.2,558.3 1144.4,558.3 1146.6,558.3 1148.8,558.3 1151.0,558.3 1153.2,558.3 1155.4,558.3 1157.6,558.3 1159.8,558.3 1162.0,558.3 1164.2,558.4 1166.4,558.4 1168.6,558.3 1170.8,558.3 1173.0,558.3 1175.2,558.2 1177.4,558.4 1179.6,558.4 1181.8,558.3 1184.0,558.3 1186.2,558.4 1188.4,558.4 1190.6,558.3 1192.8,558.3 1195.0,558.3 1197.2,558.3 1199.4,558.4 1201.6,558.4 1203.8,558.3 1206.0,558.4 1208.2,558.3 1210.4,558.3 1212.6,558.3 1214.8,558.4 1217.0,558.4 1219.2,558.3 1221.4,558.3 1223.6,558.4 1225.8,558.3 1228.0,558.3 1230.2,558.4 1232.4,558.4 1234.6,558.3 1236.8,558.4 1239.0,558.4 1241.2,558.4 1243.4,558.4 1245.6,558.3 1247.8,558.4 1250.0,558.4 1252.2,558.3 1254.4,558.3 1256.6,558.4 1258.8,558.4 1261.0,558.4 1263.2,558.3 1265.4,558.4 1267.6,558.4 1269.8,558.4 1272.0,558.4 1274.2,558.4 1276.4,558.4 1278.6,558.3 1280.8,558.4 1283.0,558.3 1285.2,558.3 1287.4,558.4 1289.6,558.4 1291.8,558.4 1294.0,558.3 1296.2,558.4 1298.4,558.3 1300.6,558.3 1302.8,558.3 1305.0,558.3 1307.2,558.4 1309.4,558.3 1311.6,558.4 1313.8,558.4 1316.0,558.3 1318.2,558.4 1320.4,558.3 1322.6,558.4 1324.8,558.4 1327.0,558.4 1329.2,558.4 1331.4,558.3 1333.6,558.3 1335.8,558.4 1338.0,558.4 1340.2,558.4 1342.4,558.4 1344.6,558.4 1346.8,558.4 1349.0,558.4 1351.2,558.4 1353.4,558.3 1355.6,558.5 1357.8,558.3 1360.0,558.4 1362.2,558.4 1364.4,558.4 1366.6,558.4 1368.8,558.4 1371.0,558.4 1373.2,558.4 1375.4,558.4 1377.6,558.4 1379.8,558.4 1382.0,558.4 1384.2,558.4 1386.4,558.4 1388.6,558.4 1390.8,558.3 1393.0,558.4 1395.2,558.3 1397.4,558.4 1399.6,558.4 1401.8,558.4 1404.0,558.4 1406.2,558.4 1408.4,558.4 1410.6,558.4 1412.8,558.3 1415.0,558.4 1417.2,558.5 1419.4,558.4 1421.6,558.4 1423.8,558.5 1426.0,558.4 1428.2,558.4 1430.4,558.4 1432.6,558.3 1434.8,558.4 1437.0,558.4 1439.2,558.3 1441.4,558.4 1443.6,558.4 1445.8,558.4 1448.0,558.4 1450.2,558.5 1452.4,558.3 1454.6,558.4 1456.8,558.4 1459.0,558.4 1461.2,558.4 1463.4,558.4 1465.6,558.4 1467.8,558.4 1470.0,558.4 1472.2,558.4 1474.4,558.4 1476.6,558.3 1478.8,558.3 1481.0,558.4 1483.2,558.4 1485.0,558.4"/>
<path class="c" stroke="#0000ff" d="M59.8,386.9 62.0,386.9 64.2,387.0 66.4,387.1 68.6,387.5 70.8,387.3 73.0,387.2 75.2,387.5 77.4,386.7 79.6,385.3 81.8,381.6 84.0,375.0 86.2,368.0 87.7,366.0 90.6,371.4 92.8,376.0 95.0,375.9 97.2,372.3 99.7,370.1 101.6,373.8 103.8,380.4 106.0,379.3 108.2,369.8 110.4,354.5 112.6,340.5 115.0,334.2 117.0,335.7 119.2,335.9 121.4,332.6 122.8,330.6 125.8,342.3 128.0,359.7 130.2,374.4 132.4,381.8 134.6,381.4 136.8,372.4 139.0,353.0 141.2,330.5 142.7,323.9 145.6,343.6 147.8,364.1 150.0,376.7 152.2,381.1 154.4,382.6 156.6,383.2 158.8,383.4 161.0,383.4 163.2,383.1 165.4,383.9 167.6,383.5 169.8,383.3 172.0,382.9 174.2,380.9 176.4,377.5 178.6,373.8 181.2,371.0 183.0,372.1 185.2,375.5 187.4,377.8 189.6,378.3 191.8,378.8 194.0,378.1 196.2,377.4 198.4,377.7 200.6,377.9 202.8,378.4 205.0,378.1 207.2,378.0 209.4,376.4 211.6,373.9 213.8,371.6 215.1,371.1 218.2,373.3 220.4,375.8 222.6,377.4 224.8,378.6 227.0,378.7 229.2,378.5 231.4,378.3 233.6,378.0 235.8,376.5 238.0,375.4 240.2,371.6 242.4,366.4 244.6,357.1 246.8,344.2 249.0,328.8 251.2,318.1 252.2,316.6 253.4,318.2 255.6,330.5 257.8,345.4 260.0,358.5 262.2,367.6 264.4,373.6 266.6,376.9 268.8,379.0 271.0,379.8 273.2,381.1 275.4,380.7 277.6,381.1 279.8,381.5 282.0,381.6 284.2,382.3 286.4,381.6 288.6,379.0 290.8,373.8 293.0,365.7 295.5,359.4 297.4,363.2 299.6,371.4 301.8,378.2 304.0,380.6 306.2,381.4 308.4,381.7 310.6,382.5 312.8,382.1 315.0,382.5 317.2,381.2 319.4,380.3 321.6,378.4 323.8,375.9 326.0,373.4 328.2,371.9 329.2,371.6 330.4,371.7 332.6,374.4 334.8,377.4 337.0,379.8 339.2,382.2 341.4,383.2 343.6,384.9 345.8,384.9 348.0,385.3 350.2,385.8 352.4,385.1 354.6,385.2 356.8,384.9 359.0,384.6 361.2,384.8 363.4,386.5 365.6,387.0 367.8,387.1 370.0,387.4 372.2,387.2 374.4,386.3 376.6,385.3 378.8,385.0 381.0,385.3 383.2,384.8 385.4,385.4 387.6,384.7 389.8,384.7 392.0,384.9 394.2,384.9 396.4,385.0 398.6,384.3 400.8,384.3 403.0,384.5 405.2,384.1 407.4,383.9 409.6,384.2 411.8,384.8 414.0,385.6 416.2,386.1 418.4,386.3 420.6,386.7 422.8,387.1 425.0,386.8 427.2,387.3 429.4,387.1 431.6,387.1 433.8,386.9 436.0,387.3 438.2,387.0 440.4,386.7 442.6,387.2 444.8,386.9 447.0,387.2 449.2,387.0 451.4,386.8 453.6,386.9 455.8,386.7 458.0,386.6 460.2,386.7 462.4,386.9 464.6,386.7 466.8,386.6 469.0,386.4 471.2,386.6 473.4,386.5 475.6,386.6 477.8,386.4 480.0,386.7 482.2,386.0 484.4,386.2 486.6,386.3 488.8,386.3 491.0,385.8 493.2,385.8 495.4,386.0 497.6,386.2 499.8,386.2 502.0,385.6 504.2,385.9 506.4,386.1 508.6,385.8 510.8,385.5 513.0,385.5 515.2,385.4 517.4,385.8 519.6,385.5 521.8,385.3 524.0,385.2 526.2,385.3 528.4,385.0 530.6,384.9 532.8,385.0 535.0,384.8 537.2,384.7 539.4,384.4 541.6,384.2 543.8,383.4 546.0,382.6 548.2,381.3 550.4,379.3 552.6,377.4 554.8,374.3 557.0,371.4 559.2,370.0 561.0,369.1 563.6,370.1 565.8,372.7 568.0,375.3 570.2,377.7 572.4,379.3 574.6,381.1 576.8,381.8 579.0,382.6 581.2,382.9 583.4,383.1 585.6,383.4 587.8,383.2 590.0,383.5 592.2,383.4 594.4,383.2 596.6,383.2 598.8,383.3 601.0,383.2 603.2,382.8 605.4,383.1 607.6,382.7 609.8,382.6 612.0,381.9 614.2,381.8 616.4,382.0 618.6,381.5 620.8,381.3 623.0,381.2 625.2,380.3 627.4,380.3 629.6,380.2 631.8,379.5 634.0,378.7 636.2,378.0 638.4,377.0 640.6,376.3 642.8,375.5 645.0,374.3 647.2,373.4 649.4,372.1 651.6,370.8 653.8,369.3 656.0,367.1 658.2,365.7 660.4,363.8 662.6,360.9 664.8,357.7 667.0,353.2 669.2,348.2 671.4,342.0 673.6,333.9 675.8,324.0 678.0,311.2 680.2,294.9 682.4,274.9 684.6,253.3 686.8,236.6 688.5,231.7 691.2,243.1 693.4,264.8 695.6,288.2 697.8,309.7 700.0,326.2 702.2,339.4 704.4,348.4 706.6,355.1 708.8,360.5 711.0,364.0 713.2,367.1 715.4,369.9 717.6,372.0 719.8,374.1 722.0,375.5 724.2,376.8 726.4,377.9 728.6,378.9 730.8,379.6 733.0,380.5 735.2,381.1 737.4,381.0 739.6,381.5 741.8,382.6 744.0,382.5 746.2,382.9 748.4,383.1 750.6,383.4 752.8,384.0 755.0,383.6 757.2,383.9 759.4,384.0 761.6,383.9 763.8,384.1 766.0,384.3 768.2,384.4 770.4,384.6 772.6,384.2 774.8,384.3 777.0,385.0 779.2,384.7 781.4,385.0 783.6,384.8 785.8,384.7 788.0,385.3 790.2,384.6 792.4,384.7 794.6,385.0 796.8,384.9 799.0,384.5 801.2,384.8 803.4,384.8 805.6,384.2 807.8,384.2 810.0,384.2 812.2,384.0 814.4,382.6 816.6,382.0 818.8,380.4 821.0,376.7 823.2,366.1 825.4,337.1 828.4,288.8 829.8,304.4 832.0,347.8 834.2,370.8 836.4,378.5 838.6,381.5 840.8,382.5 843.0,383.5 845.2,384.3 847.4,384.7 849.6,384.9 851.8,384.9 854.0,385.0 856.2,385.0 858.4,385.3 860.6,385.2 862.8,385.4 865.0,385.5 867.2,385.8 869.4,385.8 871.6,385.7 873.8,385.5 876.0,385.7 878.2,385.9 880.4,386.0 882.6,385.9 884.8,386.0 887.0,385.7 889.2,386.0 891.4,386.0 893.6,385.8 895.8,385.8 898.0,386.2 900.2,385.8 902.4,386.1 904.6,385.9 906.8,385.9 909.0,385.9 911.2,385.9 913.4,386.0 915.6,386.4 917.8,386.3 920.0,386.0 922.2,386.1 924.4,386.2 926.6,386.0 928.8,386.4 931.0,386.1 933.2,386.2 935.4,385.9 937.6,385.9 939.8,385.9 942.0,386.0 944.2,386.3 946.4,386.0 948.6,386.3 950.8,386.0 953.0,385.9 955.2,386.1 957.4,386.0 959.6,385.8 961.8,386.1 964.0,386.4 966.2,386.1 968.4,385.9 970.6,386.0 972.8,385.9 975.0,386.1 977.2,386.0 979.4,386.1 981.6,386.2 983.8,386.4 986.0,385.9 988.2,385.7 990.4,386.5 992.6,386.2 994.8,386.1 997.0,386.3 999.2,386.0 1001.4,386.1 1003.6,386.2 1005.8,386.1 1008.0,386.2 1010.2,386.2 1012.4,386.2 1014.6,386.2 1016.8,386.2 1019.0,386.3 1021.2,386.3 1023.4,386.1 1025.6,386.2 1027.8,386.0 1030.0,386.1 1032.2,386.2 1034.4,386.2 1036.6,386.3 1038.8,386.1 1041.0,386.3 1043.2,386.2 1045.4,386.2 1047.6,386.2 1049.8,386.3 1052.0,386.1 1054.2,386.1 1056.4,386.2 1058.6,386.2 1060.8,386.3 1063.0,386.2 1065.2,386.2 1067.4,386.2 1069.6,386.2 1071.8,386.3 1074.0,386.1 1076.2,386.2 1078.4,386.1 1080.6,386.3 1082.8,386.2 1085.0,386.2 1087.2,386.3 1089.4,386.4 1091.6,386.3 1093.8,386.1 1096.0,386.2 1098.2,386.3 1100.4,386.1 1102.6,386.1 1104.8,386.2 1107.0,386.3 1109.2,386.2 1111.4,386.2 1113.6,386.2 1115.8,386.3 1118.0,386.1 1120.2,386.1 1122.4,386.1 1124.6,386.2 1126.8,386.3 1129.0,386.3 1131.2,386.1 1133.4,386.1 1135.6,386.2 1137.8,386.2 1140.0,386.1 1142.2,386.2 1144.4,386.2 1146.6,386.2 1148.8,386.3 1151.0,386.3 1153.2,386.3 1155.4,386.3 1157.6,386.2 1159.8,386.2 1162.0,386.2 1164.2,386.3 1166.4,386.2 1168.6,386.3 1170.8,386.4 1173.0,386.4 1175.2,386.1 1177.4,386.3 1179.6,386.3 1181.8,386.2 1184.0,386.2 1186.2,386.1 1188.4,386.2 1190.6,386.2 1192.8,386.1 1195.0,386.2 1197.2,386.2 1199.4,386.3 1201.6,386.2 1203.8,386.3 1206.0,386.3 1208.2,386.2 1210.4,386.2 1212.6,386.3 1214.8,386.3 1217.0,386.2 1219.2,386.3 1221.4,386.2 1223.6,386.2 1225.8,386.0 1228.0,386.2 1230.2,386.3 1232.4,386.2 1234.6,386.3 1236.8,386.2 1239.0,386.3 1241.2,386.2 1243.4,386.2 1245.6,386.4 1247.8,386.2 1250.0,386.2 1252.2,386.3 1254.4,386.3 1256.6,386.3 1258.8,386.3 1261.0,386.3 1263.2,386.3 1265.4,386.3 1267.6,386.2 1269.8,386.4 1272.0,386.3 1274.2,386.1 1276.4,386.3 1278.6,386.3 1280.8,386.3 1283.0,386.4 1285.2,386.2 1287.4,386.2 1289.6,386.2 1291.8,386.3 1294.0,386.3 1296.2,386.3 1298.4,386.3 1300.6,386.1 1302.8,386.3 1305.0,386.4 1307.2,386.2 1309.4,386.2 1311.6,386.2 1313.8,386.3 1316.0,386.1 1318.2,386.4 1320.4,386.3 1322.6,386.2 1324.8,386.2 1327.0,386.3 1329.2,386.3 1331.4,386.2 1333.6,386.3 1335.8,386.3 1338.0,386.3 1340.2,386.3 1342.4,386.4 1344.6,386.2 1346.8,386.5 1349.0,386.2 1351.2,386.2 1353.4,386.2 1355.6,386.3 1357.8,386.3 1360.0,386.5 1362.2,386.4 1364.4,386.2 1366.6,386.2 1368.8,386.2 1371.0,386.2 1373.2,386.3 1375.4,386.2 1377.6,386.4 1379.8,386.3 1382.0,386.3 1384.2,386.3 1386.4,386.2 1388.6,386.3 1390.8,386.2 1393.0,386.4 1395.2,386.4 1397.4,386.2 1399.6,386.2 1401.8,386.2 1404.0,386.3 1406.2,386.4 1408.4,386.3 1410.6,386.3 1412.8,386.3 1415.0,386.3 1417.2,386.4 1419.4,386.3 1421.6,386.4 1423.8,386.3 1426.0,386.3 1428.2,386.3 1430.4,386.3 1432.6,386.4 1434.8,386.2 1437.0,386.2 1439.2,386.2 1441.4,386.4 1443.6,386.3 1445.8,386.3 1448.0,386.3 1450.2,386.1 1452.4,386.3 1454.6,386.3 1456.8,386.3 1459.0,386.3 1461.2,386.3 1463.4,386.3 1465.6,386.2 1467.8,386.3 1470.0,386.3 1472.2,386.1 1474.4,386.3 1476.6,386.3 1478.8,386.2 1481.0,386.3 1483.2,386.3 1485.0,386.3"/>
<path class="c" stroke="#ff00ff" d="M59.8,209.3 61.1,209.3 62.4,210.2 63.7,207.9 65.0,205.6 66.3,207.8 67.6,209.0 68.9,209.4 70.2,204.7 71.5,205.0 72.8,209.9 74.1,210.2 75.4,212.4 76.7,212.0 78.0,210.3 79.3,207.8 80.6,209.3 81.9,200.4 83.2,195.3 84.5,190.0 85.8,187.3 87.9,181.6 89.7,185.0 91.0,187.7 92.3,189.5 93.6,190.0 94.9,190.3 96.2,186.4 97.5,181.6 98.8,185.5 99.8,183.1 101.4,190.4 102.7,194.8 104.0,201.6 105.3,200.4 106.6,199.1 107.9,199.3 109.2,184.1 110.5,175.1 111.8,158.8 113.1,152.5 114.9,147.9 117.0,148.3 118.3,148.9 119.6,147.4 120.9,140.5 122.9,139.9 124.8,143.0 126.1,160.9 127.4,170.6 128.7,186.0 130.0,193.3 131.3,201.0 132.6,198.8 133.9,199.2 135.2,192.8 136.5,187.6 137.8,174.3 139.1,158.7 140.4,142.9 141.7,134.6 142.7,131.0 144.3,139.5 145.6,148.2 146.9,163.0 148.2,175.6 149.5,186.4 150.8,192.5 152.1,197.0 153.4,198.7 154.7,199.0 156.0,198.4 157.3,197.9 158.6,195.6 159.9,192.2 161.2,191.2 162.5,192.0 163.8,194.6 165.1,197.1 166.4,200.8 167.7,205.2 169.0,202.2 170.3,201.8 171.6,206.7 172.9,202.4 174.2,199.6 175.5,195.0 176.8,185.2 178.1,185.2 179.4,179.4 181.0,174.9 182.0,177.7 183.3,179.0 184.6,180.3 185.9,184.3 187.2,187.4 188.5,190.9 189.8,192.0 191.1,192.4 192.4,195.9 193.7,192.4 195.0,195.2 196.3,195.8 197.6,193.3 198.9,189.4 200.2,191.4 201.5,193.3 202.8,192.6 204.1,193.7 205.4,188.8 206.7,188.4 208.0,186.0 209.3,181.8 210.6,174.0 211.9,176.2 213.2,174.9 215.3,170.2 217.1,169.7 218.4,173.6 219.7,178.9 221.0,187.8 222.3,187.1 223.6,188.9 224.9,193.5 226.2,191.8 227.5,198.5 228.8,194.9 230.1,195.1 231.4,196.3 232.7,197.2 234.0,193.5 235.3,191.0 236.6,185.4 237.9,185.3 239.2,183.3 240.5,179.3 241.8,178.0 243.1,171.8 244.4,168.5 245.7,159.7 247.0,150.8 248.3,142.2 249.6,133.7 250.9,128.2 252.2,124.1 253.5,126.4 254.8,129.3 256.1,143.3 257.4,151.5 258.7,154.9 260.0,161.8 261.3,166.4 262.6,174.2 263.9,178.7 265.2,186.9 266.5,185.0 267.8,186.2 269.1,183.8 270.4,192.3 271.7,191.2 273.0,191.1 274.3,197.1 275.6,197.0 276.9,208.7 278.2,204.3 279.5,202.9 280.8,201.4 282.1,196.7 283.4,199.5 284.7,196.1 286.0,198.6 287.3,192.3 288.6,192.7 289.9,193.3 291.2,190.0 292.5,178.4 293.8,173.1 295.5,173.0 296.4,174.6 297.7,174.9 299.0,182.6 300.3,187.9 301.6,191.2 302.9,195.8 304.2,200.8 305.5,200.8 306.8,203.6 308.1,200.1 309.4,200.8 310.7,201.6 312.0,203.9 313.3,201.4 314.6,201.6 315.9,205.4 317.2,205.2 318.5,202.3 319.8,202.7 321.1,198.4 322.4,194.9 323.7,194.3 325.0,191.7 326.3,187.9 327.6,185.7 329.1,186.9 330.2,188.2 331.5,189.4 332.8,189.5 334.1,194.2 335.4,193.1 336.7,195.9 338.0,199.1 339.3,196.8 340.6,196.7 341.9,203.0 343.2,200.8 344.5,204.9 345.8,203.2 347.1,203.6 348.4,204.3 349.7,198.8 351.0,204.1 352.3,202.7 353.6,202.8 354.9,202.0 356.2,203.9 357.5,204.5 358.8,203.9 360.1,198.1 361.4,200.0 362.7,197.2 364.0,202.0 365.3,202.7 366.6,199.5 367.9,202.9 369.2,202.4 370.5,202.9 371.8,200.0 373.1,200.7 374.4,200.8 375.7,206.5 377.0,205.7 378.3,203.2 379.6,205.1 380.9,204.6 382.2,204.6 383.5,203.0 384.8,203.5 386.1,201.6 387.4,203.6 388.7,207.7 390.0,206.4 391.3,204.8 392.6,204.3 393.9,204.6 395.2,205.8 396.5,203.4 397.8,204.6 399.1,204.2 400.4,201.7 401.7,200.6 403.0,200.8 404.3,201.9 405.6,205.9 406.9,200.5 408.2,205.2 409.5,203.6 410.8,202.7 412.1,203.6 413.4,205.3 414.7,203.6 416.0,203.9 417.3,203.9 418.6,204.5 419.9,206.1 421.2,203.9 422.5,202.7 423.8,202.4 425.1,202.1 426.4,200.7 427.7,204.0 429.0,202.9 430.3,202.1 431.6,206.1 432.9,202.4 434.2,205.0 435.5,204.0 436.8,198.8 438.1,199.0 439.4,201.8 440.7,206.3 442.0,207.2 443.3,202.2 444.6,206.6 445.9,203.2 447.2,203.5 448.5,203.7 449.8,204.8 451.1,202.7 452.4,204.1 453.7,203.6 455.0,207.7 456.3,210.2 457.6,210.7 458.9,205.7 460.2,202.9 461.5,204.7 462.8,204.1 464.1,209.2 465.4,205.8 466.7,202.6 468.0,205.8 469.3,203.8 470.6,200.1 471.9,202.7 473.2,203.9 474.5,203.9 475.8,206.2 477.1,205.4 478.4,206.7 479.7,205.0 481.0,204.3 482.3,208.9 483.6,206.9 484.9,206.6 486.2,203.7 487.5,206.5 488.8,207.3 490.1,203.2 491.4,207.4 492.7,203.4 494.0,204.2 495.3,202.5 496.6,203.4 497.9,204.5 499.2,201.8 500.5,206.1 501.8,201.7 503.1,201.4 504.4,205.1 505.7,202.4 507.0,204.9 508.3,208.2 509.6,209.2 510.9,203.8 512.2,206.9 513.5,209.6 514.8,208.8 516.1,205.7 517.4,204.6 518.7,205.5 520.0,203.6 521.3,204.0 522.6,203.0 523.9,202.6 525.2,204.2 526.5,200.2 527.8,196.7 529.1,201.2 530.4,197.8 531.7,199.7 533.0,199.3 534.3,198.7 535.6,197.5 536.9,197.7 538.2,200.6 539.5,196.5 540.8,196.6 542.1,199.3 543.4,198.7 544.7,198.8 546.0,197.5 547.3,192.4 548.6,193.5 549.9,193.0 551.2,192.5 552.5,194.0 553.8,191.7 555.1,189.5 556.4,190.1 557.7,189.6 559.0,189.5 561.1,191.3 562.9,190.1 564.2,191.3 565.5,192.8 566.8,198.0 568.1,197.9 569.4,198.9 570.7,199.7 572.0,200.7 573.3,199.9 574.6,201.8 575.9,199.6 577.2,200.2 578.5,199.2 579.8,202.0 581.1,200.2 582.4,201.5 583.7,202.2 585.0,204.0 586.3,200.9 587.6,199.4 588.9,201.6 590.2,199.5 591.5,202.4 592.8,199.5 594.1,200.3 595.4,197.8 596.7,201.6 598.0,199.5 599.3,199.3 600.6,206.2 601.9,203.4 603.2,208.9 604.5,203.1 605.8,201.5 607.1,202.2 608.4,205.1 609.7,202.2 611.0,202.8 612.3,202.6 613.6,199.7 614.9,202.6 616.2,201.0 617.5,200.1 618.8,204.4 620.1,203.7 621.4,202.0 622.7,199.9 624.0,197.5 625.3,201.8 626.6,198.3 627.9,194.8 629.2,198.2 630.5,195.9 631.8,197.7 633.1,199.7 634.4,199.7 635.7,198.1 637.0,197.2 638.3,195.2 639.6,195.7 640.9,194.1 642.2,194.5 643.5,195.8 644.8,197.0 646.1,197.6 647.4,188.8 648.7,194.6 650.0,191.5 651.3,194.0 652.6,192.7 653.9,188.1 655.2,191.0 656.5,188.6 657.8,190.1 659.1,185.5 660.4,185.7 661.7,184.6 663.0,183.2 664.3,180.8 665.6,174.2 666.9,174.5 668.2,169.7 669.5,163.6 670.8,158.3 672.1,155.4 673.4,150.5 674.7,145.3 676.0,139.9 677.3,134.1 678.6,122.0 679.9,114.3 681.2,100.9 682.5,91.0 683.8,79.9 685.1,67.5 686.4,58.7 687.7,56.4 689.0,51.0 690.3,52.6 691.6,63.5 692.9,69.3 694.2,77.6 695.5,94.0 696.8,103.8 698.1,121.8 699.4,126.5 700.7,138.3 702.0,145.9 703.3,156.4 704.6,160.0 705.9,167.3 707.2,170.5 708.5,172.7 709.8,178.9 711.1,180.2 712.4,180.3 713.7,180.2 715.0,182.9 716.3,188.0 717.6,194.6 718.9,191.7 720.2,193.5 721.5,194.3 722.8,193.4 724.1,194.7 725.4,194.5 726.7,196.9 728.0,194.8 729.3,196.0 730.6,193.8 731.9,200.4 733.2,202.4 734.5,201.7 735.8,200.2 737.1,203.9 738.4,205.7 739.7,204.5 741.0,202.7 742.3,202.9 743.6,203.5 744.9,203.8 746.2,208.0 747.5,201.7 748.8,203.8 750.1,207.6 751.4,204.2 752.7,206.9 754.0,203.9 755.3,203.7 756.6,201.9 757.9,199.4 759.2,199.2 760.5,204.9 761.8,202.9 763.1,202.4 764.4,202.7 765.7,202.9 767.0,205.5 768.3,203.4 769.6,204.0 770.9,206.6 772.2,203.9 773.5,200.7 774.8,201.9 776.1,202.0 777.4,204.3 778.7,201.7 780.0,201.6 781.3,203.4 782.6,206.3 783.9,203.5 785.2,203.7 786.5,203.1 787.8,203.9 789.1,205.3 790.4,204.8 791.7,199.9 793.0,205.9 794.3,202.3 795.6,201.6 796.9,206.6 798.2,200.2 799.5,204.8 800.8,204.6 802.1,202.1 803.4,206.1 804.7,207.5 806.0,205.5 807.3,199.2 808.6,202.5 809.9,202.6 811.2,200.8 812.5,205.0 813.8,201.7 815.1,199.9 816.4,200.6 817.7,198.1 819.0,197.8 820.3,198.7 821.6,195.6 822.9,188.1 824.2,179.2 825.5,158.9 826.8,138.7 828.4,121.4 829.4,131.0 830.7,151.6 832.0,174.6 833.3,190.6 834.6,196.1 835.9,208.6 837.2,207.1 838.5,207.6 839.8,206.6 841.1,210.9 842.4,209.7 843.7,206.6 845.0,203.9 846.3,206.7 847.6,209.3 848.9,206.7 850.2,206.0 851.5,204.9 852.8,205.3 854.1,206.0 855.4,203.4 856.7,204.3 858.0,209.3 859.3,206.1 860.6,202.1 861.9,206.4 863.2,205.4 864.5,206.7 865.8,210.5 867.1,205.7 868.4,205.2 869.7,205.7 871.0,205.3 872.3,207.3 873.6,206.8 874.9,202.9 876.2,203.4 877.5,202.5 878.8,204.8 880.1,203.4 881.4,204.4 882.7,203.2 884.0,199.8 885.3,204.4 886.6,204.7 887.9,205.3 889.2,202.4 890.5,204.9 891.8,203.8 893.1,204.0 894.4,206.6 895.7,205.8 897.0,203.7 898.3,201.9 899.6,199.9 900.9,203.1 902.2,206.9 903.5,205.4 904.8,200.8 906.1,204.2 907.4,205.5 908.7,207.7 910.0,204.7 911.3,204.1 912.6,202.7 913.9,201.6 915.2,202.5 916.5,204.9 917.8,203.9 919.1,207.2 920.4,205.3 921.7,207.7 923.0,208.8 924.3,207.1 925.6,205.9 926.9,204.6 928.2,201.0 929.5,203.2 930.8,204.8 932.1,201.4 933.4,205.5 934.7,202.7 936.0,203.5 937.3,202.9 938.6,200.8 939.9,208.4 941.2,201.9 942.5,206.8 943.8,203.2 945.1,205.2 946.4,202.6 947.7,203.2 949.0,205.7 950.3,208.1 951.6,203.1 952.9,203.3 954.2,204.7 955.5,201.8 956.8,205.1 958.1,202.5 959.4,206.6 960.7,207.2 962.0,208.3 963.3,206.3 964.6,202.3 965.9,204.9 967.2,202.3 968.5,205.6 969.8,207.2 971.1,205.8 972.4,203.5 973.7,205.7 975.0,204.1 976.3,200.6 977.6,201.8 978.9,204.9 980.2,203.1 981.5,204.1 982.8,203.7 984.1,201.4 985.4,204.8 986.7,204.0 988.0,203.4 989.3,200.1 990.6,197.0 991.9,203.2 993.2,202.3 994.5,204.0 995.8,206.8 997.1,204.7 998.4,204.2 999.7,207.2 1001.0,209.7 1002.3,203.4 1003.6,204.4 1004.9,203.0 1006.2,205.3 1007.5,207.4 1008.8,202.9 1010.1,200.4 1011.4,203.1 1012.7,203.1 1014.0,199.8 1015.3,204.1 1016.6,202.6 1017.9,205.4 1019.2,201.7 1020.5,206.5 1021.8,203.9 1023.1,207.7 1024.4,202.4 1025.7,207.3 1027.0,203.2 1028.3,199.6 1029.6,203.3 1030.9,204.6 1032.2,201.7 1033.5,204.1 1034.8,206.2 1036.1,205.1 1037.4,199.1 1038.7,204.5 1040.0,205.0 1041.3,204.2 1042.6,205.1 1043.9,201.2 1045.2,207.0 1046.5,204.3 1047.8,203.5 1049.1,205.6 1050.4,205.1 1051.7,203.5 1053.0,202.1 1054.3,204.9 1055.6,203.3 1056.9,199.3 1058.2,201.7 1059.5,204.4 1060.8,203.3 1062.1,203.9 1063.4,205.8 1064.7,203.0 1066.0,205.8 1067.3,202.4 1068.6,202.9 1069.9,204.2 1071.2,206.1 1072.5,205.3 1073.8,207.0 1075.1,203.2 1076.4,205.7 1077.7,204.6 1079.0,202.1 1080.3,204.9 1081.6,207.8 1082.9,204.2 1084.2,202.3 1085.5,199.3 1086.8,201.4 1088.1,202.4 1089.4,205.8 1090.7,210.3 1092.0,206.9 1093.3,206.2 1094.6,202.9 1095.9,200.4 1097.2,202.2 1098.5,201.7 1099.8,206.4 1101.1,200.7 1102.4,200.9 1103.7,203.8 1105.0,202.0 1106.3,200.3 1107.6,204.7 1108.9,202.5 1110.2,199.7 1111.5,203.0 1112.8,203.2 1114.1,202.3 1115.4,204.9 1116.7,206.0 1118.0,203.4 1119.3,202.0 1120.6,200.5 1121.9,203.6 1123.2,205.9 1124.5,205.0 1125.8,205.1 1127.1,207.0 1128.4,203.2 1129.7,205.2 1131.0,200.0 1132.3,203.9 1133.6,203.6 1134.9,203.1 1136.2,202.5 1137.5,201.2 1138.8,203.0 1140.1,203.7 1141.4,200.0 1142.7,202.3 1144.0,199.7 1145.3,203.0 1146.6,200.9 1147.9,203.5 1149.2,201.5 1150.5,203.5 1151.8,200.4 1153.1,199.8 1154.4,202.2 1155.7,205.1 1157.0,205.5 1158.3,203.4 1159.6,205.8 1160.9,204.9 1162.2,204.5 1163.5,200.3 1164.8,203.2 1166.1,201.5 1167.4,207.6 1168.7,207.4 1170.0,207.8 1171.3,201.5 1172.6,206.2 1173.9,205.9 1175.2,201.4 1176.5,204.6 1177.8,204.3 1179.1,204.6 1180.4,203.4 1181.7,202.9 1183.0,203.5 1184.3,208.8 1185.6,202.9 1186.9,202.0 1188.2,201.1 1189.5,202.0 1190.8,202.5 1192.1,202.0 1193.4,205.3 1194.7,201.6 1196.0,203.5 1197.3,198.1 1198.6,202.3 1199.9,200.5 1201.2,202.5 1202.5,201.2 1203.8,201.2 1205.1,204.4 1206.4,200.8 1207.7,201.4 1209.0,201.0 1210.3,203.5 1211.6,202.9 1212.9,204.5 1214.2,205.3 1215.5,203.7 1216.8,201.6 1218.1,204.5 1219.4,205.9 1220.7,204.8 1222.0,200.0 1223.3,205.1 1224.6,204.0 1225.9,203.1 1227.2,203.4 1228.5,203.1 1229.8,201.6 1231.1,204.0 1232.4,202.6 1233.7,201.5 1235.0,203.3 1236.3,205.0 1237.6,200.9 1238.9,202.5 1240.2,203.4 1241.5,200.9 1242.8,200.5 1244.1,198.5 1245.4,201.5 1246.7,204.5 1248.0,202.7 1249.3,203.2 1250.6,202.8 1251.9,208.1 1253.2,206.1 1254.5,204.2 1255.8,207.7 1257.1,206.9 1258.4,205.3 1259.7,200.3 1261.0,202.3 1262.3,203.9 1263.6,200.2 1264.9,204.4 1266.2,205.2 1267.5,204.7 1268.8,201.4 1270.1,201.0 1271.4,204.5 1272.7,204.8 1274.0,205.5 1275.3,205.9 1276.6,203.1 1277.9,202.4 1279.2,201.1 1280.5,206.6 1281.8,207.8 1283.1,203.7 1284.4,203.1 1285.7,204.6 1287.0,202.1 1288.3,198.9 1289.6,200.0 1290.9,199.7 1292.2,204.8 1293.5,201.2 1294.8,204.8 1296.1,206.0 1297.4,205.9 1298.7,206.5 1300.0,207.7 1301.3,202.5 1302.6,203.8 1303.9,203.1 1305.2,202.7 1306.5,207.6 1307.8,200.2 1309.1,204.9 1310.4,201.9 1311.7,206.7 1313.0,206.4 1314.3,201.6 1315.6,207.0 1316.9,203.8 1318.2,206.2 1319.5,204.0 1320.8,202.9 1322.1,202.2 1323.4,203.1 1324.7,203.9 1326.0,202.9 1327.3,206.6 1328.6,203.4 1329.9,201.5 1331.2,201.6 1332.5,202.8 1333.8,202.0 1335.1,201.5 1336.4,205.4 1337.7,204.2 1339.0,202.2 1340.3,203.1 1341.6,204.8 1342.9,204.4 1344.2,205.0 1345.5,203.5 1346.8,204.1 1348.1,203.7 1349.4,204.4 1350.7,203.3 1352.0,203.9 1353.3,204.1 1354.6,204.2 1355.9,203.4 1357.2,201.7 1358.5,204.4 1359.8,201.4 1361.1,198.7 1362.4,201.1 1363.7,198.2 1365.0,198.7 1366.3,200.5 1367.6,199.3 1368.9,197.5 1370.2,204.6 1371.5,206.8 1372.8,202.1 1374.1,202.9 1375.4,204.6 1376.7,201.1 1378.0,203.1 1379.3,202.2 1380.6,202.9 1381.9,200.0 1383.2,204.9 1384.5,203.7 1385.8,205.9 1387.1,206.1 1388.4,202.8 1389.7,206.2 1391.0,202.7 1392.3,204.0 1393.6,201.2 1394.9,202.2 1396.2,203.1 1397.5,204.7 1398.8,205.0 1400.1,201.8 1401.4,203.7 1402.7,205.8 1404.0,204.7 1405.3,202.4 1406.6,204.6 1407.9,204.2 1409.2,207.5 1410.5,204.2 1411.8,204.4 1413.1,207.0 1414.4,199.9 1415.7,199.9 1417.0,198.8 1418.3,199.2 1419.6,203.5 1420.9,202.8 1422.2,205.2 1423.5,198.3 1424.8,200.3 1426.1,205.1 1427.4,203.6 1428.7,203.5 1430.0,204.8 1431.3,203.4 1432.6,203.6 1433.9,204.8 1435.2,205.8 1436.5,203.9 1437.8,206.5 1439.1,207.7 1440.4,203.7 1441.7,204.5 1443.0,207.1 1444.3,202.9 1445.6,204.4 1446.9,207.5 1448.2,204.0 1449.5,201.0 1450.8,204.3 1452.1,205.8 1453.4,199.1 1454.7,200.6 1456.0,201.1 1457.3,200.1 1458.6,206.2 1459.9,202.9 1461.2,202.3 1462.5,204.4 1463.8,202.3 1465.1,202.4 1466.4,204.1 1467.7,206.6 1469.0,198.1 1470.3,202.9 1471.6,204.7 1472.9,202.1 1474.2,205.3 1475.5,203.3 1476.8,203.3 1478.1,201.1 1479.4,201.1 1480.7,205.1 1482.0,199.5 1483.3,201.5 1484.6,202.3 1485.0,202.3"/>
<g font-size="60.5" text-anchor="middle" fill="#000">
<text x="22.4" y="1223.7">0</text>
<text x="184.8" y="1223.7">200</text>
<text x="347.3" y="1223.7">400</text>
<text x="509.8" y="1223.7">600</text>
<text x="672.2" y="1223.7">800</text>
<text x="834.7" y="1223.7">1000</text>
<text x="997.2" y="1223.7">1200</text>
<text x="1159.7" y="1223.7">1400</text>
<text x="1322.1" y="1223.7">1600</text>
<text x="1484.6" y="1223.7">1800</text>
</g>
<text transform="translate(469.8,1321.3) scale(0.963,1)" font-size="71.0" fill="#000">Raman shift (cm<tspan font-size="46.5" dy="-22.8">−</tspan><tspan font-size="46.5" dy="2">1</tspan><tspan dy="20.8">)</tspan></text>
<text transform="translate(978.8,160.6) scale(0.955,1)" font-size="58.3" fill="#ff00ff">5</text>
<text transform="translate(1007.6,160.6) scale(0.848,1)" font-size="58.3" fill="#ff00ff">%</text>
<text transform="translate(1055.1,160.6) scale(0.954,1)" font-size="58.3" fill="#ff00ff">Pd/</text>
<text class="sym" transform="translate(1143.1,160.6) scale(1.041,1)" font-size="60.0" fill="#ff00ff">α</text>
<text transform="translate(1177.9,160.6) scale(0.954,1)" font-size="58.3" fill="#ff00ff">-MoC</text>
<text transform="translate(985.5,349.3) scale(0.882,1)" font-size="58.3" fill="#0000ff">1</text>
<text transform="translate(1014.4,349.3) scale(0.842,1)" font-size="58.3" fill="#0000ff">%</text>
<text transform="translate(1061.7,349.3) scale(0.957,1)" font-size="58.3" fill="#0000ff">Pd/</text>
<text class="sym" transform="translate(1149.6,349.3) scale(1.069,1)" font-size="60.0" fill="#0000ff">α</text>
<text transform="translate(1185.1,349.3) scale(0.949,1)" font-size="58.3" fill="#0000ff">-MoC</text>
<text transform="translate(946.3,523.0) scale(0.957,1)" font-size="58.3" fill="#008000">0.2</text>
<text transform="translate(1025.9,523.0) scale(0.840,1)" font-size="58.3" fill="#008000">%</text>
<text transform="translate(1072.8,523.0) scale(0.961,1)" font-size="58.3" fill="#008000">Pd/</text>
<text class="sym" transform="translate(1161.1,523.0) scale(1.045,1)" font-size="60.0" fill="#008000">α</text>
<text transform="translate(1196.6,523.0) scale(0.942,1)" font-size="58.3" fill="#008000">-MoC</text>
<text transform="translate(933.8,689.7) scale(0.976,1)" font-size="58.3" fill="#ff0000">0.05</text>
<text transform="translate(1045.3,689.7) scale(0.814,1)" font-size="58.3" fill="#ff0000">%</text>
<text transform="translate(1090.5,689.7) scale(0.983,1)" font-size="58.3" fill="#ff0000">Pd/</text>
<text class="sym" transform="translate(1179.2,689.7) scale(1.086,1)" font-size="60.0" fill="#ff0000">α</text>
<text transform="translate(1216.1,689.7) scale(0.941,1)" font-size="58.3" fill="#ff0000">-MoC</text>
<text class="sym" transform="translate(1072.0,871.3) scale(1.061,1)" font-size="63.0" fill="#ff8000">α</text>
<text transform="translate(1109.2,871.3) scale(0.936,1)" font-size="58.3" fill="#ff8000">-MoC</text>
<text transform="translate(1067.4,1025.0) scale(0.949,1)" font-size="58.3" fill="#000">β-Mo<tspan font-size="41" dy="16">2</tspan><tspan dy="-16">C</tspan></text>
</svg>
</body>
</html>
